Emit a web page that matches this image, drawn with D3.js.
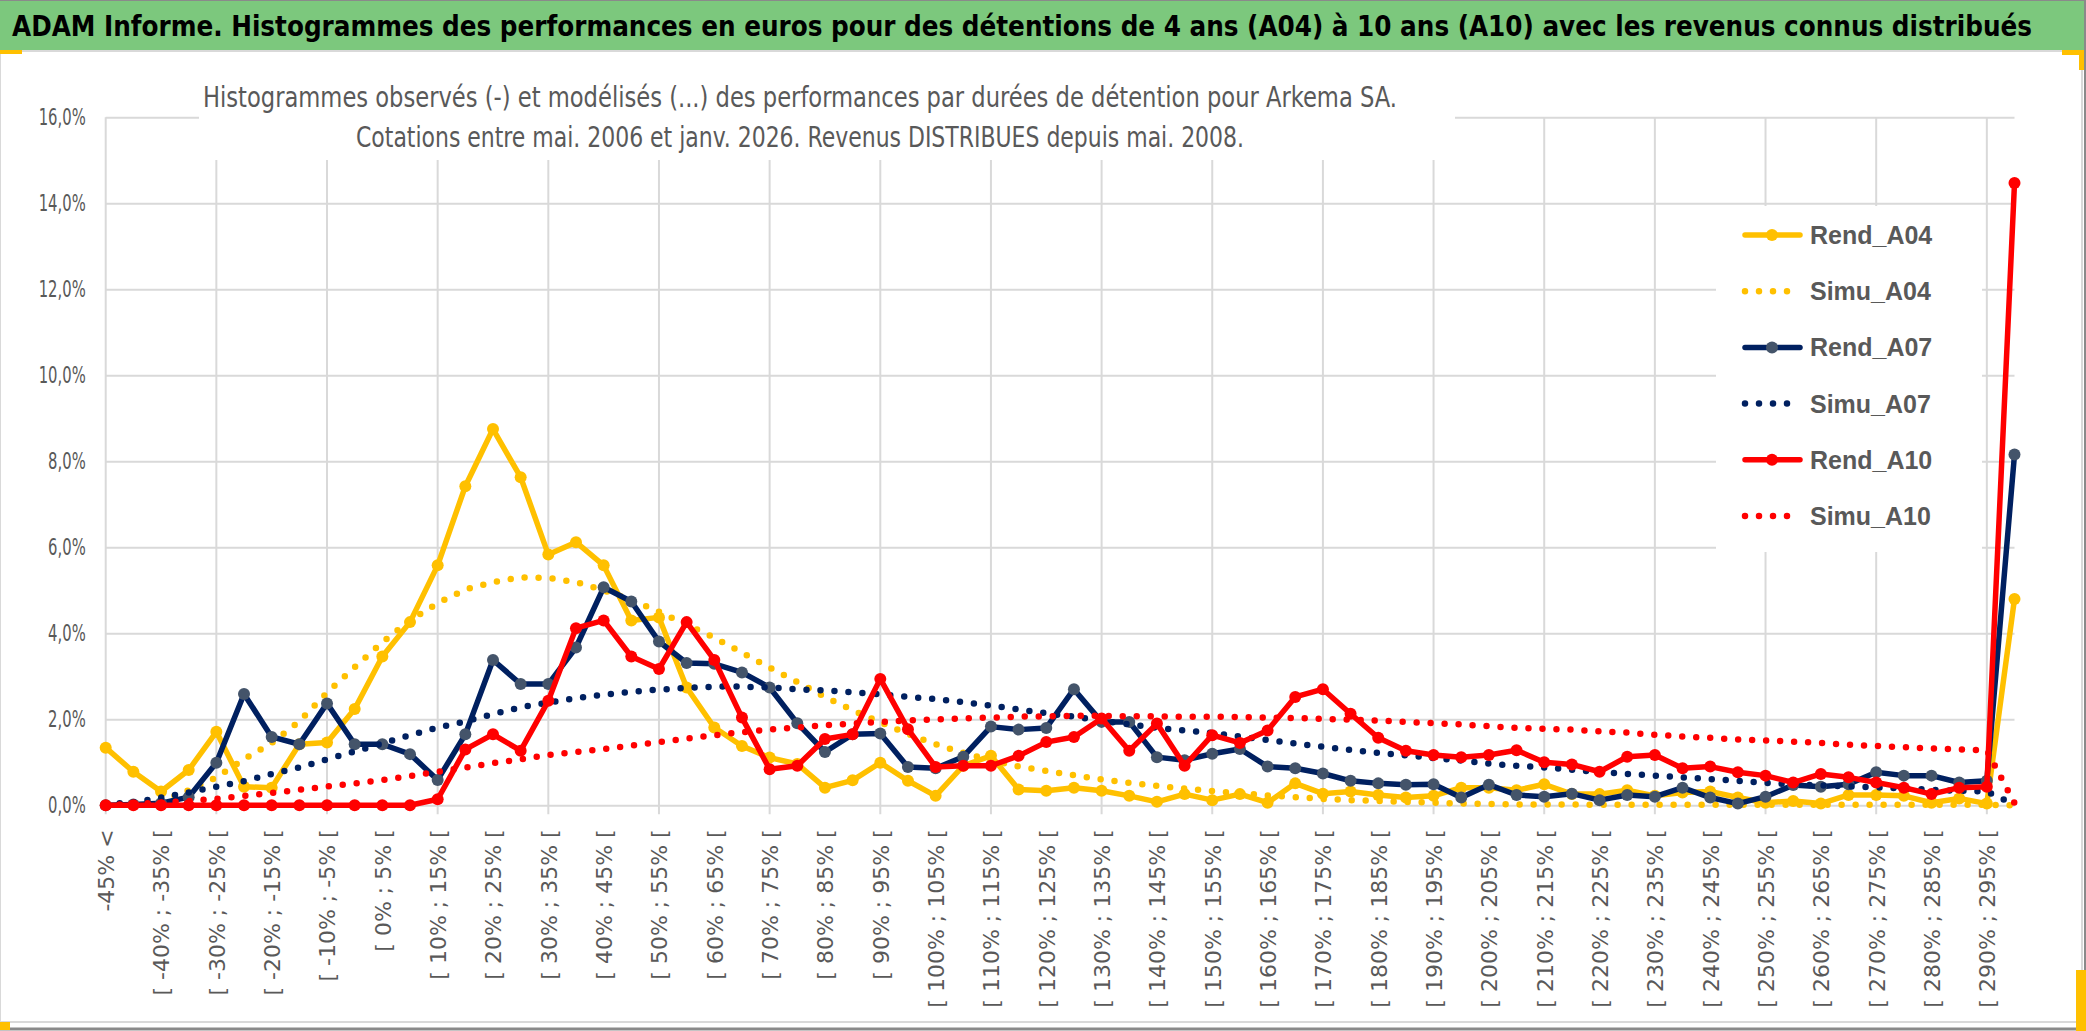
<!DOCTYPE html>
<html>
<head>
<meta charset="utf-8">
<script src="https://cdn.jsdelivr.net/npm/d3@7"></script>
<style>
  body { margin: 0; background: #fff; }
</style>
</head>
<body>
<div class="chart"></div>
<script>
// classes de performance (axe des abscisses)
const categories = [
    "-45% <", "[ -45% ; -40% [", "[ -40% ; -35% [", "[ -35% ; -30% [", "[ -30% ; -25% [",
    "[ -25% ; -20% [", "[ -20% ; -15% [", "[ -15% ; -10% [", "[ -10% ; -5% [", "[ -5% ; 0% [",
    "[ 0% ; 5% [", "[ 5% ; 10% [", "[ 10% ; 15% [", "[ 15% ; 20% [", "[ 20% ; 25% [",
    "[ 25% ; 30% [", "[ 30% ; 35% [", "[ 35% ; 40% [", "[ 40% ; 45% [", "[ 45% ; 50% [",
    "[ 50% ; 55% [", "[ 55% ; 60% [", "[ 60% ; 65% [", "[ 65% ; 70% [", "[ 70% ; 75% [",
    "[ 75% ; 80% [", "[ 80% ; 85% [", "[ 85% ; 90% [", "[ 90% ; 95% [", "[ 95% ; 100% [",
    "[ 100% ; 105% [", "[ 105% ; 110% [", "[ 110% ; 115% [", "[ 115% ; 120% [", "[ 120% ; 125% [",
    "[ 125% ; 130% [", "[ 130% ; 135% [", "[ 135% ; 140% [", "[ 140% ; 145% [", "[ 145% ; 150% [",
    "[ 150% ; 155% [", "[ 155% ; 160% [", "[ 160% ; 165% [", "[ 165% ; 170% [", "[ 170% ; 175% [",
    "[ 175% ; 180% [", "[ 180% ; 185% [", "[ 185% ; 190% [", "[ 190% ; 195% [", "[ 195% ; 200% [",
    "[ 200% ; 205% [", "[ 205% ; 210% [", "[ 210% ; 215% [", "[ 215% ; 220% [", "[ 220% ; 225% [",
    "[ 225% ; 230% [", "[ 230% ; 235% [", "[ 235% ; 240% [", "[ 240% ; 245% [", "[ 245% ; 250% [",
    "[ 250% ; 255% [", "[ 255% ; 260% [", "[ 260% ; 265% [", "[ 265% ; 270% [", "[ 270% ; 275% [",
    "[ 275% ; 280% [", "[ 280% ; 285% [", "[ 285% ; 290% [", "[ 290% ; 295% [", "295% >"
];

// fréquences en %
const rendA04 = [
    1.34, 0.78, 0.32, 0.82, 1.71, 0.43, 0.41, 1.42, 1.46, 2.24,
    3.46, 4.26, 5.58, 7.42, 8.75, 7.63, 5.83, 6.12, 5.58, 4.30,
    4.37, 2.74, 1.81, 1.38, 1.11, 0.96, 0.41, 0.58, 0.99, 0.57,
    0.22, 0.92, 1.15, 0.37, 0.34, 0.41, 0.34, 0.22, 0.08, 0.26,
    0.12, 0.26, 0.06, 0.51, 0.27, 0.32, 0.24, 0.18, 0.22, 0.41,
    0.41, 0.35, 0.49, 0.26, 0.26, 0.35, 0.22, 0.30, 0.32, 0.18,
    0.06, 0.10, 0.04, 0.24, 0.24, 0.22, 0.06, 0.16, 0.04, 4.80
];
const simuA04 = [
    0.01, 0.03, 0.10, 0.35, 0.65, 1.07, 1.45, 1.95, 2.62, 3.21,
    3.79, 4.30, 4.70, 5.02, 5.19, 5.30, 5.29, 5.19, 5.00, 4.78,
    4.50, 4.20, 3.90, 3.55, 3.20, 2.87, 2.52, 2.21, 1.93, 1.66,
    1.42, 1.22, 1.05, 0.90, 0.80, 0.70, 0.60, 0.52, 0.45, 0.39,
    0.33, 0.28, 0.23, 0.19, 0.15, 0.12, 0.10, 0.08, 0.06, 0.04,
    0.03, 0.02, 0.02, 0.02, 0.01, 0.01, 0.01, 0.01, 0.01, 0.01,
    0.01, 0.01, 0.01, 0.01, 0.01, 0.01, 0.01, 0.01, 0.01, 0.00
];
const rendA07 = [
    0.00, 0.02, 0.05, 0.19, 0.99, 2.59, 1.59, 1.42, 2.37, 1.42,
    1.42, 1.19, 0.59, 1.65, 3.38, 2.82, 2.82, 3.67, 5.07, 4.74,
    3.81, 3.31, 3.29, 3.09, 2.74, 1.91, 1.24, 1.65, 1.67, 0.89,
    0.86, 1.13, 1.83, 1.76, 1.80, 2.70, 1.94, 1.94, 1.12, 1.05,
    1.20, 1.31, 0.90, 0.86, 0.74, 0.57, 0.51, 0.48, 0.49, 0.18,
    0.48, 0.24, 0.20, 0.27, 0.12, 0.24, 0.20, 0.41, 0.18, 0.04,
    0.20, 0.47, 0.43, 0.49, 0.77, 0.69, 0.69, 0.53, 0.57, 8.16
];
const simuA07 = [
    0.03, 0.07, 0.18, 0.30, 0.43, 0.56, 0.73, 0.88, 1.07, 1.25,
    1.44, 1.63, 1.81, 1.95, 2.12, 2.28, 2.39, 2.49, 2.57, 2.64,
    2.69, 2.73, 2.76, 2.76, 2.74, 2.70, 2.67, 2.63, 2.58, 2.52,
    2.47, 2.40, 2.32, 2.23, 2.14, 2.06, 1.97, 1.88, 1.80, 1.74,
    1.68, 1.60, 1.52, 1.44, 1.36, 1.29, 1.22, 1.16, 1.10, 1.04,
    0.97, 0.92, 0.88, 0.83, 0.77, 0.73, 0.69, 0.65, 0.61, 0.57,
    0.52, 0.49, 0.46, 0.44, 0.42, 0.39, 0.36, 0.34, 0.32, 0.02
];
const rendA10 = [
    0.00, 0.00, 0.00, 0.00, 0.00, 0.00, 0.00, 0.00, 0.00, 0.00,
    0.00, 0.00, 0.14, 1.30, 1.65, 1.27, 2.43, 4.12, 4.30, 3.46,
    3.17, 4.26, 3.38, 2.04, 0.84, 0.92, 1.54, 1.65, 2.94, 1.77,
    0.89, 0.92, 0.92, 1.15, 1.47, 1.59, 2.02, 1.27, 1.90, 0.92,
    1.63, 1.45, 1.74, 2.52, 2.70, 2.13, 1.57, 1.27, 1.17, 1.12,
    1.17, 1.28, 1.00, 0.95, 0.78, 1.13, 1.17, 0.86, 0.90, 0.77,
    0.69, 0.53, 0.73, 0.65, 0.53, 0.41, 0.26, 0.41, 0.43, 14.47
];
const simuA10 = [
    0.01, 0.03, 0.06, 0.10, 0.15, 0.22, 0.29, 0.36, 0.44, 0.51,
    0.59, 0.68, 0.78, 0.88, 0.98, 1.07, 1.17, 1.24, 1.31, 1.39,
    1.47, 1.55, 1.63, 1.70, 1.76, 1.81, 1.86, 1.90, 1.94, 1.97,
    2.00, 2.02, 2.04, 2.06, 2.07, 2.08, 2.08, 2.07, 2.07, 2.06,
    2.06, 2.05, 2.04, 2.03, 2.01, 1.99, 1.97, 1.94, 1.91, 1.88,
    1.84, 1.80, 1.78, 1.76, 1.72, 1.69, 1.64, 1.60, 1.57, 1.53,
    1.51, 1.48, 1.45, 1.41, 1.38, 1.35, 1.32, 1.30, 1.28, 0.05
];

const seriesNames = ["Rend_A04", "Simu_A04", "Rend_A07", "Simu_A07", "Rend_A10", "Simu_A10"];
const seriesValues = [rendA04, simuA04, rendA07, simuA07, rendA10, simuA10];
const yTicks = [0, 2, 4, 6, 8, 10, 12, 14, 16];

const titleText = "ADAM Informe. Histogrammes des performances en euros pour des détentions de 4 ans (A04) à 10 ans (A10) avec les revenus connus distribués";
const subtitleLines = [
    "Histogrammes observés (-) et modélisés (...) des performances par durées de détention pour Arkema SA.",
    "Cotations entre mai. 2006 et janv. 2026. Revenus DISTRIBUES depuis mai. 2008."
];

// styles
const lineColor = ["#FFC000", "#FFC000", "#002060", "#002060", "#FF0000", "#FF0000"];
const markerColor = ["#FFC000", null, "#44546A", null, "#FF0000", null];
const narrow = "'Liberation Sans Narrow', 'DejaVu Sans Condensed', 'Liberation Sans', sans-serif";
const gridColor = "#d9d9d9";
const textGray = "#595959";

const W = 2086, H = 1031;
const plotLeft = 105.7, plotRight = 2014.5, plotTop = 117.3, plotBottom = 805.3;

const svg = d3.select(".chart").append("svg")
        .attr("width", W)
        .attr("height", H)
        .style("display", "block");

// fond, bandeau vert, cadre
svg.append("rect").attr("width", W).attr("height", H).attr("fill", "#fff");
svg.append("rect").attr("x", 0).attr("y", 0).attr("width", 2084).attr("height", 50).attr("fill", "#7cc87d");
svg.append("line").attr("x1", 0).attr("x2", 2084).attr("y1", 0.5).attr("y2", 0.5).attr("stroke", "#8a8a8a");
svg.append("rect").attr("x", 0).attr("y", 51).attr("width", 2082).attr("height", 971)
        .attr("fill", "#fff").attr("stroke", gridColor).attr("stroke-width", 2);
svg.append("line").attr("x1", 2085).attr("x2", 2085).attr("y1", 0).attr("y2", H).attr("stroke", "#8a8a8a").attr("stroke-width", 2);
svg.append("line").attr("x1", 0).attr("x2", W).attr("y1", 1029).attr("y2", 1029).attr("stroke", "#8a8a8a").attr("stroke-width", 3);

svg.append("text")
        .attr("x", 12)
        .attr("y", 36)
        .attr("textLength", 2020)
        .attr("lengthAdjust", "spacingAndGlyphs")
        .style("font-family", narrow)
        .style("font-weight", "bold")
        .style("font-size", "28px")
        .attr("fill", "#000")
        .text(titleText);

const x = d3.scalePoint().domain(categories).range([plotLeft, plotRight]);
const y = d3.scaleLinear().domain([0, 16]).range([plotBottom, plotTop]);

// grille horizontale + étiquettes de l'axe Y
const yAxis = svg.append("g")
        .attr("transform", `translate(${plotLeft},0)`)
        .call(d3.axisLeft(y)
            .tickValues(yTicks)
            .tickSize(-(plotRight - plotLeft))
            .tickPadding(20)
            .tickFormat(d => d.toFixed(1).replace(".", ",") + "%"));
yAxis.select(".domain").remove();
yAxis.selectAll("line").attr("stroke", gridColor).attr("stroke-width", 2);
const yLabels = yAxis.selectAll("text")
        .style("font-family", narrow)
        .style("font-size", "23px")
        .attr("fill", textGray);
// police étroite type Calibri : on resserre les libellés
const refLen = yLabels.nodes()[yLabels.size() - 1].getComputedTextLength();
const squeeze = 47 / refLen;
yLabels.each(function () {
    const len = this.getComputedTextLength();
    d3.select(this).attr("textLength", len * squeeze).attr("lengthAdjust", "spacingAndGlyphs");
});

// grille verticale (une toutes les 4 classes)
svg.append("g").selectAll("line")
        .data(categories.filter((_, i) => i % 4 === 0)).enter()
        .append("line")
        .attr("x1", d => x(d)).attr("x2", d => x(d))
        .attr("y1", plotTop).attr("y2", plotBottom + 9)
        .attr("stroke", gridColor)
        .attr("stroke-width", 2);

// étiquettes de l'axe X (une sur deux)
const xAxis = svg.append("g")
        .attr("transform", `translate(0,${plotBottom})`)
        .call(d3.axisBottom(x)
            .tickValues(categories.filter((_, i) => i % 2 === 0))
            .tickSize(0));
xAxis.select(".domain").remove();
xAxis.selectAll("text")
        .attr("transform", "rotate(-90)")
        .attr("x", -24)
        .attr("y", 0)
        .attr("dy", "0.36em")
        .attr("text-anchor", "end")
        .style("font-family", "'DejaVu Sans', Verdana, sans-serif")
        .style("font-size", "22px")
        .attr("fill", textGray);

// cache blanc du sous-titre
svg.append("rect").attr("x", 199).attr("y", 60).attr("width", 1256).attr("height", 100).attr("fill", "#fff");
svg.append("g").selectAll("text")
        .data(subtitleLines).enter()
        .append("text")
        .attr("x", 800)
        .attr("y", (_, i) => 107 + i * 40)
        .attr("text-anchor", "middle")
        .attr("textLength", (_, i) => [1194, 888][i])
        .attr("lengthAdjust", "spacingAndGlyphs")
        .style("font-family", narrow)
        .style("font-size", "28px")
        .attr("fill", textGray)
        .text(d => d);

// séries
const line = d3.line()
        .x((_, i) => x(categories[i]))
        .y(d => y(d));

seriesNames.forEach((name, s) => {
    const g = svg.append("g").attr("class", name);
    const dotted = markerColor[s] === null;
    g.append("path")
            .datum(seriesValues[s])
            .attr("d", line)
            .attr("fill", "none")
            .attr("stroke", lineColor[s])
            .attr("stroke-width", dotted ? 6.5 : 5.5)
            .attr("stroke-linejoin", "round")
            .attr("stroke-linecap", "round")
            .attr("stroke-dasharray", dotted ? "0 14" : null);
    if (!dotted) {
        g.selectAll("circle")
                .data(seriesValues[s]).enter()
                .append("circle")
                .attr("cx", (_, i) => x(categories[i]))
                .attr("cy", d => y(d))
                .attr("r", 6)
                .attr("fill", markerColor[s]);
    }
});

// légende
const legend = svg.append("g");
legend.append("rect").attr("x", 1716).attr("y", 206).attr("width", 266).attr("height", 346).attr("fill", "#fff");
const item = legend.selectAll("g")
        .data(seriesNames).enter()
        .append("g")
        .attr("transform", (_, i) => `translate(0,${235 + i * 56.2})`);
item.append("line")
        .attr("x1", 1745).attr("x2", 1800)
        .attr("y1", 0).attr("y2", 0)
        .attr("stroke", (_, i) => lineColor[i])
        .attr("stroke-width", (_, i) => markerColor[i] === null ? 6.5 : 5.5)
        .attr("stroke-linecap", "round")
        .attr("stroke-dasharray", (_, i) => markerColor[i] === null ? "0 14" : null);
item.filter(d => markerColor[seriesNames.indexOf(d)] !== null)
        .append("circle")
        .attr("cx", 1772).attr("cy", 0).attr("r", 6)
        .attr("fill", d => markerColor[seriesNames.indexOf(d)]);
item.append("text")
        .attr("x", 1810)
        .attr("y", 0)
        .attr("dy", "0.36em")
        .style("font-family", "'Liberation Sans', Arial, sans-serif")
        .style("font-weight", "bold")
        .style("font-size", "25px")
        .attr("fill", textGray)
        .text(d => d);

// poignées de sélection (jaune)
const handles = [[0, 50, 22, 4], [2062, 50, 22, 5], [2079, 50, 5, 20], [0, 1022, 10, 8], [2076, 970, 10, 61]];
svg.append("g").selectAll("rect")
        .data(handles).enter()
        .append("rect")
        .attr("x", d => d[0]).attr("y", d => d[1])
        .attr("width", d => d[2]).attr("height", d => d[3])
        .attr("fill", "#FFC000");
</script>
</body>
</html>
